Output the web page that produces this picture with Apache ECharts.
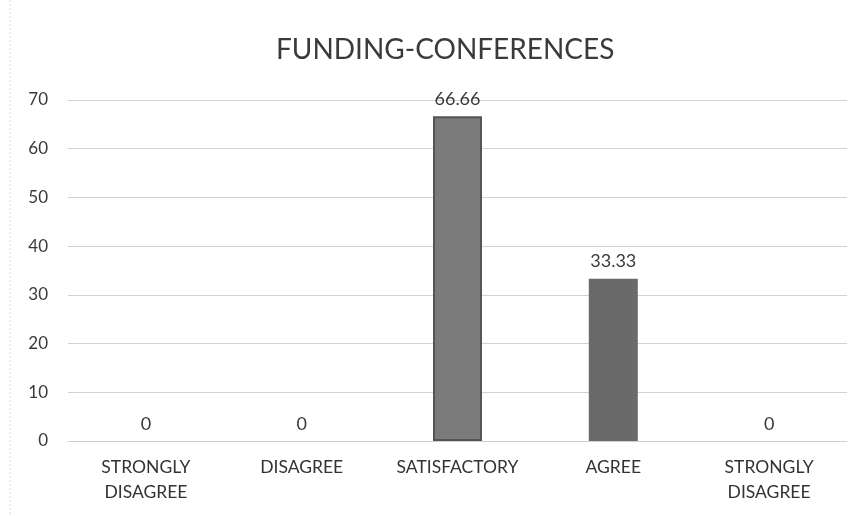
<!DOCTYPE html>
<html><head><meta charset="utf-8">
<script src="https://cdn.jsdelivr.net/npm/echarts@6/dist/echarts.min.js"></script>
<style>html,body{margin:0;padding:0;background:#fff}#c{width:858px;height:516px}</style>
</head><body><div id="c"></div>
<script>
const titleText = 'FUNDING-CONFERENCES';
const categories = ['STRONGLY\nDISAGREE', 'DISAGREE', 'SATISFACTORY', 'AGREE', 'STRONGLY\nDISAGREE'];
const values = [0, 0, 66.66, 33.33, 0];
const yTicks = { min: 0, max: 70, interval: 10 };

const barColors = ['#7a7a7a', '#7a7a7a', '#7b7b7b', '#6a6a6a', '#7a7a7a'];
const barBorders = ['#555', '#555', '#555', '#6a6a6a', '#555'];

const chart = echarts.init(document.getElementById('c'));
chart.setOption({
  backgroundColor: '#fff',
  animation: false,
  textStyle: { fontFamily: 'Lato' },
  title: {
    text: titleText, left: 271, top: 31,
    textStyle: { fontFamily: 'Lato', fontSize: 28, fontWeight: 'normal', color: '#3a3a3a' }
  },
  grid: { left: 68, right: 11, top: 100, bottom: 75, containLabel: false },
  xAxis: {
    type: 'category', data: categories,
    axisLine: { show: true, lineStyle: { color: '#cfcfcf' } },
    axisTick: { show: false },
    axisLabel: { fontFamily: 'Lato', fontSize: 17.5, color: '#333', lineHeight: 25, margin: 14, interval: 0 }
  },
  yAxis: {
    type: 'value', min: yTicks.min, max: yTicks.max, interval: yTicks.interval,
    axisLine: { show: false }, axisTick: { show: false },
    splitLine: { lineStyle: { color: '#d2d2d2' } },
    axisLabel: { fontFamily: 'Lato', fontSize: 17, color: '#3a3a3a', margin: 20 }
  },
  series: [{
    type: 'bar', barWidth: 49,
    data: values.map((v, i) => ({ value: v, itemStyle: { color: barColors[i], borderColor: barBorders[i], borderWidth: v === 0 ? 0 : 2 } })),
    label: { show: true, position: 'top', distance: 8, fontFamily: 'Lato', fontSize: 18, color: '#3a3a3a' }
  }],
  graphic: [{ type: 'line', shape: { x1: 10, y1: 0, x2: 10, y2: 516 }, style: { stroke: '#d8d8d8', lineWidth: 1, lineDash: [2, 2] } }]
});
</script></body></html>
